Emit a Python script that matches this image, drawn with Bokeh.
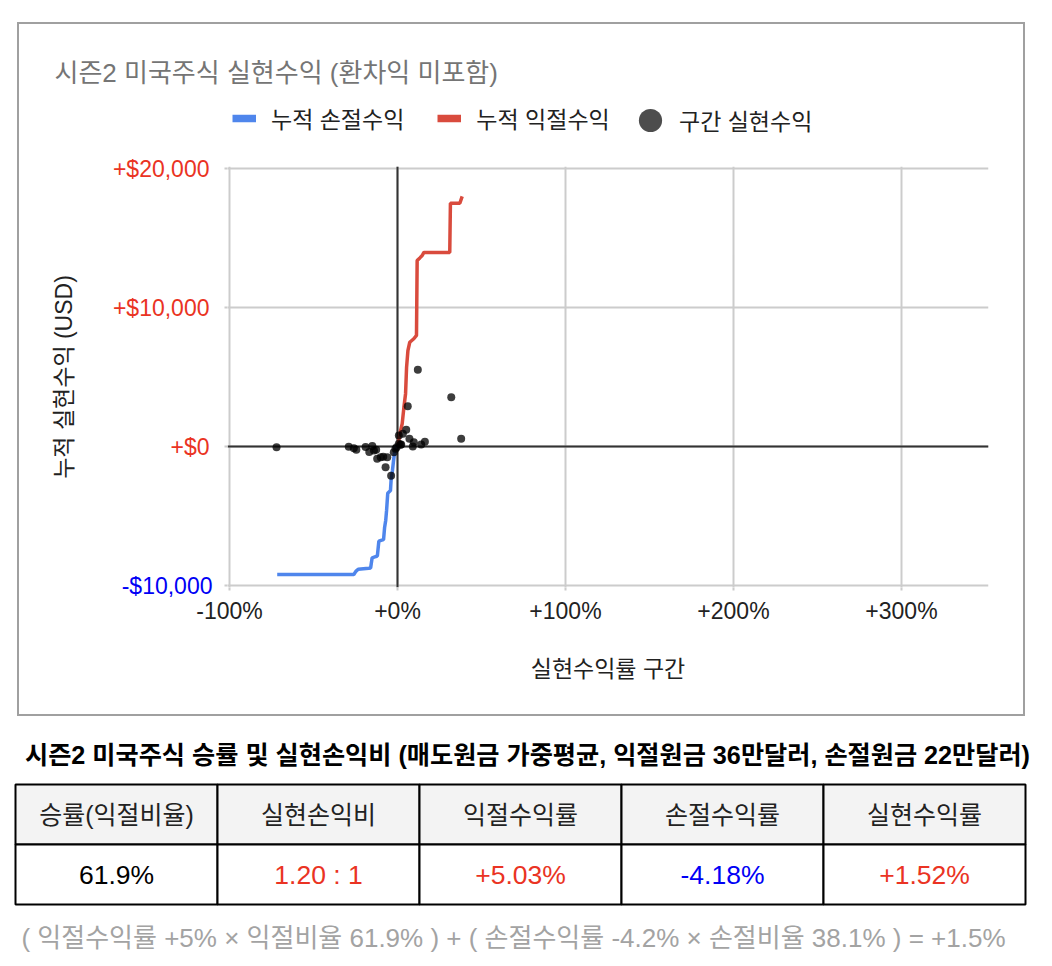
from bokeh.plotting import figure
from bokeh.layouts import column, row
from bokeh.models import (Range1d, FixedTicker, Span, Legend, LegendItem, LinearAxis, Spacer)
from bokeh.core.properties import value
from bokeh.embed import file_html
from bokeh.resources import INLINE

# ---------------- data ----------------
chart_title = "시즌2 미국주식 실현수익 (환차익 미포함)"
legend_labels = ["누적 손절수익", "누적 익절수익", "구간 실현수익"]
x_axis_title = "실현수익률 구간"
y_axis_title = "누적 실현수익 (USD)"

x_ticks = [-100, 0, 100, 200, 300]
x_tick_labels = ["-100%", "+0%", "+100%", "+200%", "+300%"]
y_ticks = [-10000, 0, 10000, 20000]
y_tick_labels = ["-$10,000", "+$0", "+$10,000", "+$20,000"]

# cumulative loss (blue line): return-rate bin (%) vs cumulative USD
loss_x = [-71.6, -26.0, -24.8, -23.4, -17.1, -16.0, -15.1, -12.7, -12.0, -11.1, -8.9, -8.3,
          -7.7, -7.0, -6.5, -5.8, -4.6, -4.2, -3.8, -3.0, -2.4, -1.8, -1.2, -0.4]
loss_y = [-9210, -9210, -8980, -8830, -8760, -8740, -8010, -7910, -7890, -6810, -6720, -6700,
          -5850, -5300, -4600, -3360, -3210, -3200, -2400, -1730, -1060, -480, -60, 0]

# cumulative profit (red line)
profit_x = [0.4, 1.4, 2.8, 3.8, 4.8, 5.4, 6.2, 7.3, 9.7, 11.3, 11.7, 13.3, 14.7, 15.7,
            31.1, 31.5, 37.1, 38.5]
profit_y = [150, 900, 1650, 2800, 3800, 5700, 6900, 7500, 7750, 7990, 13380, 13570, 13740,
            13960, 13960, 17500, 17500, 17990]

# realized profit per bin (points)
point_x = [-72.0, -29.0, -26.0, -24.5, -19.0, -16.8, -15.0, -14.0, -12.7, -12.1, -10.0, -8.5,
           -7.1, -6.1, -3.8, -2.2, -1.2, -0.5, 0.8, 0.8, 1.8, 2.2, 3.2, 5.2, 6.1, 7.1, 9.1,
           9.7, 12.1, 14.1, 16.3, 32.0, 37.9]
point_y = [-60, -20, -120, -230, -40, -400, 40, -280, -240, -890, -780, -740,
           -1490, -770, -2100, -410, -170, -60, 190, 790, 120, 140, 910, 1200, 2900, 550, 0,
           310, 5520, 140, 340, 3550, 550]

table_title = "시즌2 미국주식 승률 및 실현손익비 (매도원금 가중평균, 익절원금 36만달러, 손절원금 22만달러)"
table_headers = ["승률(익절비율)", "실현손익비", "익절수익률", "손절수익률", "실현수익률"]
table_values = ["61.9%", "1.20 : 1", "+5.03%", "-4.18%", "+1.52%"]
formula_text = "( 익절수익률 +5% × 익절비율 61.9% ) + ( 손절수익률 -4.2% × 손절비율 38.1% ) = +1.5%"

# ---------------- style ----------------
FONT = "Liberation Sans, Noto Sans CJK KR"
RED = "#ea3323"
BLUE_TXT = "#0000f5"
LINE_BLUE = "#4f86ec"
LINE_RED = "#d94b3d"
GRID = "#cccccc"
TXT = "#222222"
value_colors = ["#000000", RED, RED, BLUE_TXT, RED]

PAGE_W, PAGE_H = 1052, 966
BORDER = 2
OUT_L, OUT_T, OUT_R, OUT_B = 17, 22, 1025, 716          # outer edge of the chart box
BOX_L, BOX_T = OUT_L + BORDER, OUT_T + BORDER             # content area of the box
BOX_R, BOX_B = OUT_R - BORDER, OUT_B - BORDER
BOX_W, BOX_H = BOX_R - BOX_L, BOX_B - BOX_T
HEAD_H = 130                                             # title + legend strip
CHART_H = BOX_H - HEAD_H
CHART_T = BOX_T + HEAD_H
FL, FR, FT, FB = 227, 988, 166, 587                      # plot frame (page px)
PX_PER_X = 1.68                                          # px per 1 %
PX_PER_Y = 417 / 30000.0                                 # px per 1 USD
X0 = 0 - (397 - FL) / PX_PER_X
X1 = 0 + (FR - 397) / PX_PER_X
Y0 = 0 - (FB - 446) / PX_PER_Y
Y1 = 0 + (446 - FT) / PX_PER_Y

# ---------------- header (title + legend) ----------------
head = figure(width=BOX_W, height=HEAD_H, x_range=Range1d(0, BOX_W), y_range=Range1d(HEAD_H, 0),
              x_axis_type=None, y_axis_type=None, output_backend="svg", toolbar_location=None,
              min_border=0, outline_line_color=None, background_fill_color="white",
              border_fill_color="white", frame_align=False)
head.title.visible = False
head.text(x=[54 - BOX_L], y=[72 - BOX_T], text=[chart_title], text_align="left",
          text_baseline="middle", text_font=value(FONT), text_font_size="26px",
          text_color="#757575")

# hidden renderers that only supply the legend swatches
d_loss = head.line(loss_x, loss_y, line_color=LINE_BLUE, line_width=7.5, visible=False)
d_profit = head.line(profit_x, profit_y, line_color=LINE_RED, line_width=7.5, visible=False)
d_pts = head.scatter(point_x, point_y, fill_color="#4d4d4d", line_color=None, visible=False)

leg_common = dict(orientation="horizontal", padding=0, margin=0, border_line_color=None,
                  background_fill_alpha=0, label_text_font=FONT, label_text_font_size="23px",
                  label_text_color=TXT, inactive_fill_alpha=0)
leg1 = Legend(items=[LegendItem(label=legend_labels[0], renderers=[d_loss]),
                     LegendItem(label=legend_labels[1], renderers=[d_profit])],
              location=(232 - BOX_L, CHART_T - 135), glyph_width=24, glyph_height=32,
              label_height=32, label_standoff=15, spacing=33, **leg_common)
leg2 = Legend(items=[LegendItem(label=legend_labels[2], renderers=[d_pts])],
              location=(621 - BOX_L, CHART_T - 149), glyph_width=58, glyph_height=58,
              label_height=58, label_standoff=0, spacing=0, **leg_common)
head.add_layout(leg1)
head.add_layout(leg2)

# ---------------- chart ----------------
p = figure(width=BOX_W, height=CHART_H, x_range=Range1d(X0, X1), y_range=Range1d(Y0, Y1),
           output_backend="svg", toolbar_location=None,
           min_border_left=FL - BOX_L, min_border_right=BOX_R - FR,
           min_border_top=FT - CHART_T, min_border_bottom=BOX_B - FB,
           background_fill_color="white", border_fill_color="white", outline_line_color=None,
           frame_align=False)
p.title.visible = False

xa = p.xaxis[0]
xa.ticker = FixedTicker(ticks=x_ticks)
xa.major_label_overrides = {float(t): l for t, l in zip(x_ticks, x_tick_labels)}
xa.major_label_text_color = TXT
xa.major_label_standoff = 7
xa.axis_label = x_axis_title
xa.axis_label_standoff = 29

# inner left axis: ticks + the negative (blue) labels
ya = p.yaxis[0]
ya.ticker = FixedTicker(ticks=y_ticks)
ya.major_label_overrides = {float(t): (l if t < 0 else "") for t, l in zip(y_ticks, y_tick_labels)}
ya.major_label_text_color = BLUE_TXT
ya.major_label_standoff = 12

# outer left axis: positive (red) labels pulled back into the same column + axis title
yb = LinearAxis(ticker=FixedTicker(ticks=y_ticks))
yb.major_label_overrides = {float(t): (l if t >= 0 else "") for t, l in zip(y_ticks, y_tick_labels)}
yb.major_label_text_color = RED
yb.major_label_standoff = -91
yb.major_tick_line_color = None
yb.major_tick_out = 0
yb.axis_label = y_axis_title
yb.axis_label_standoff = 33
p.add_layout(yb, "left")

for ax in (xa, ya, yb):
    ax.axis_line_color = None
    ax.minor_tick_line_color = None
    ax.major_label_text_font = FONT
    ax.major_label_text_font_size = "23px"
    ax.axis_label_text_font = FONT
    ax.axis_label_text_font_size = "23px"
    ax.axis_label_text_font_style = "normal"
    ax.axis_label_text_color = TXT
for ax in (xa, ya):
    ax.major_tick_out = 3
    ax.major_tick_in = 0
    ax.major_tick_line_color = GRID
    ax.major_tick_line_width = 2

p.xgrid.ticker = FixedTicker(ticks=x_ticks)
p.ygrid.ticker = FixedTicker(ticks=y_ticks)
p.grid.grid_line_color = GRID
p.grid.grid_line_width = 2

p.add_layout(Span(location=0, dimension="height", line_color="#333333", line_width=2, level="underlay"))
p.add_layout(Span(location=0, dimension="width", line_color="#333333", line_width=2, level="underlay"))

p.line(loss_x, loss_y, line_color=LINE_BLUE, line_width=3.5)
p.line(profit_x, profit_y, line_color=LINE_RED, line_width=3.5)
p.scatter(point_x, point_y, size=8, fill_color="black", fill_alpha=0.76, line_color=None)

box = column(head, p, width=BOX_W, height=BOX_H, spacing=0,
             styles={"border": f"{BORDER}px solid #a0a0a0", "box-sizing": "content-box"})

# ---------------- table ----------------
TAB_T = OUT_B
TH = PAGE_H - TAB_T
t = figure(width=PAGE_W, height=TH, x_range=Range1d(0, PAGE_W), y_range=Range1d(TH, 0),
           x_axis_type=None, y_axis_type=None, output_backend="svg", toolbar_location=None,
           min_border=0, outline_line_color=None, background_fill_color="white",
           border_fill_color="white", frame_align=False)
t.title.visible = False

n = len(table_headers)
TL, TR = 15, 1025
cw = (TR - TL) / n
lefts = [TL + i * cw for i in range(n)]
rights = [l + cw for l in lefts]
centers = [l + cw / 2 for l in lefts]
row1_top, row1_bot, row2_bot = 784 - TAB_T, 844 - TAB_T, 904 - TAB_T

t.quad(left=lefts, right=rights, top=[row1_top] * n, bottom=[row1_bot] * n,
       fill_color="#f3f3f3", line_color="black", line_width=2)
t.quad(left=lefts, right=rights, top=[row1_bot] * n, bottom=[row2_bot] * n,
       fill_color="white", line_color="black", line_width=2)

t.text(x=[527], y=[754 - TAB_T], text=[table_title], text_align="center", text_baseline="middle",
       text_font=value(FONT), text_font_size="25.2px", text_font_style="bold", text_color="#000000")
t.text(x=centers, y=[(row1_top + row1_bot) / 2] * n, text=table_headers, text_align="center",
       text_baseline="middle", text_font=value(FONT), text_font_size="25px", text_color=TXT)
t.text(x=centers, y=[(row1_bot + row2_bot) / 2] * n, text=table_values, text_align="center",
       text_baseline="middle", text_font=value(FONT), text_font_size="26.5px",
       text_color=value_colors)
t.text(x=[513], y=[937 - TAB_T], text=[formula_text], text_align="center", text_baseline="middle",
       text_font=value(FONT), text_font_size="26px", text_color="#a3a3a3")

layout = column(Spacer(width=PAGE_W, height=OUT_T),
                row(Spacer(width=OUT_L, height=OUT_B - OUT_T), box, spacing=0),
                t, spacing=0)
open("out.html", "w").write(file_html(layout, INLINE))
